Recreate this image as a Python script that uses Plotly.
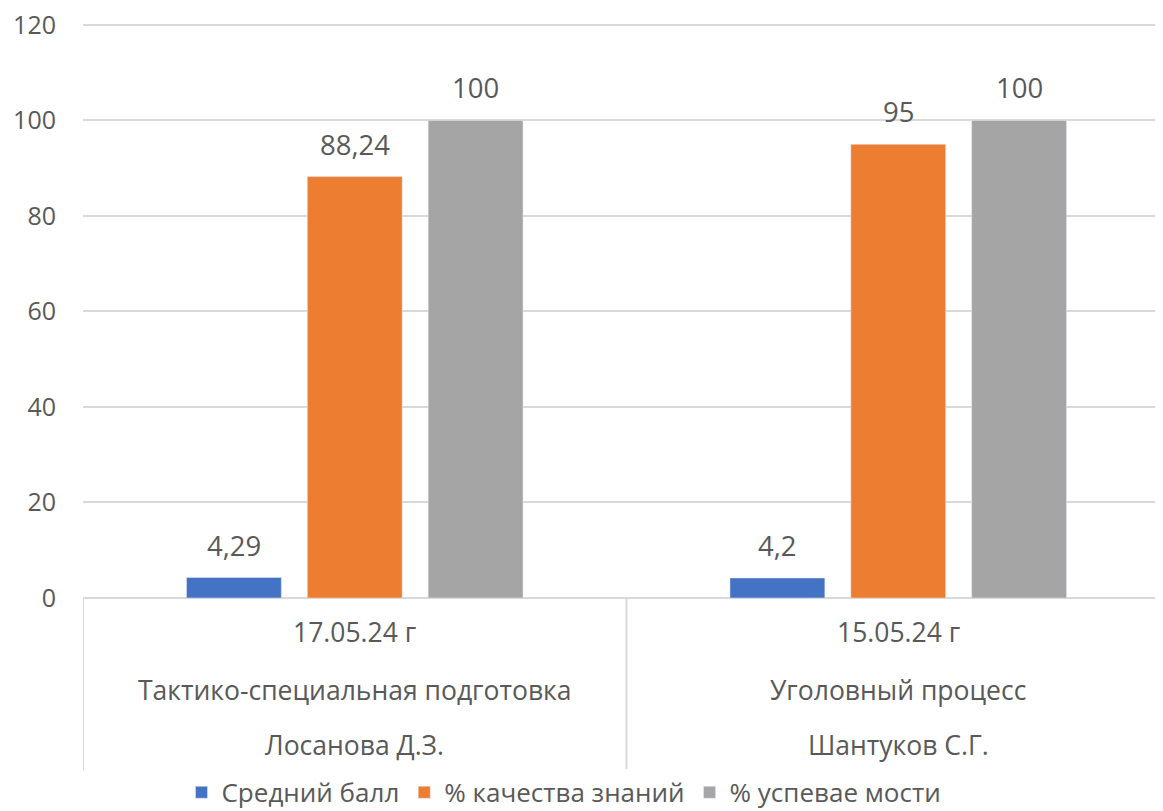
import plotly.graph_objects as go

# categories (three-level labels under the axis)
dates = ["17.05.24 г", "15.05.24 г"]
subjects = ["Тактико-специальная подготовка", "Уголовный процесс"]
teachers = ["Лосанова Д.З.", "Шантуков С.Г."]

series_names = ["Средний балл", "% качества знаний", "% успевае мости"]
avg_score = [4.29, 4.2]
quality = [88.24, 95]
progress = [100, 100]
colors = ["#4472C4", "#ED7D31", "#A5A5A5"]

FONT = "Open Sans"
TXT = "#595959"
GRID = "#D9D9D9"
BARGAP = 0.333

x = list(range(len(dates)))
all_series = [avg_score, quality, progress]
fig = go.Figure()
for name, vals, col in zip(series_names, all_series, colors):
    fig.add_trace(go.Bar(x=x, y=vals, name=name, marker_color=col))

annotations = []
# value labels above the bars (slot offset of each series inside a group)
slot = (1 - BARGAP) / len(all_series)
for k, vals in enumerate(all_series):
    for i, v in enumerate(vals):
        annotations.append(dict(
            x=i + (k - (len(all_series) - 1) / 2) * slot, xref="x", y=v, yref="y",
            text=f"{v:g}".replace(".", ","), showarrow=False,
            yanchor="bottom", yshift=12,
            font=dict(family=FONT, size=27.5, color=TXT)))

for i, (d, s, t) in enumerate(zip(dates, subjects, teachers)):
    for txt, yy in [(d, -0.0593), (s, -0.1606), (t, -0.2565)]:
        annotations.append(dict(x=i, xref="x", y=yy, yref="paper", text=txt,
                                 showarrow=False, yanchor="middle",
                                 font=dict(family=FONT, size=26.5, color=TXT)))

shapes = [dict(type="line", xref="x", yref="paper", x0=b, x1=b, y0=0, y1=-0.30,
               line=dict(color=GRID, width=2))
          for b in [i - 0.5 for i in range(len(dates) + 1)]]

# the page adds an 8px body margin, so margins are trimmed by 8px;
# y range goes a bit past 120 so the top gridline is not clipped
fig.update_layout(
    width=1163, height=811,
    margin=dict(l=75, r=1, t=15, b=221, autoexpand=False),
    paper_bgcolor="white", plot_bgcolor="white",
    barmode="group", bargap=BARGAP, bargroupgap=0.215,
    font=dict(family=FONT, size=24, color=TXT),
    annotations=annotations, shapes=shapes,
    legend=dict(orientation="h", x=0.4425, xanchor="center", y=-0.338,
                yanchor="middle", font=dict(family=FONT, size=26, color=TXT),
                itemwidth=30, traceorder="normal", tracegroupgap=0),
    xaxis=dict(range=[-0.5, 1.5], showticklabels=False, showgrid=False,
               zeroline=False, showline=False, fixedrange=True),
    yaxis=dict(range=[0, 120.4], dtick=20, showgrid=True, gridcolor=GRID,
               gridwidth=2, zeroline=True, zerolinecolor=GRID, zerolinewidth=2,
               showline=False, ticks="", ticklabelstandoff=26,
               ticklabeloverflow="allow",
               tickfont=dict(family=FONT, size=25, color=TXT)),
)

fig.write_html("out.html")
